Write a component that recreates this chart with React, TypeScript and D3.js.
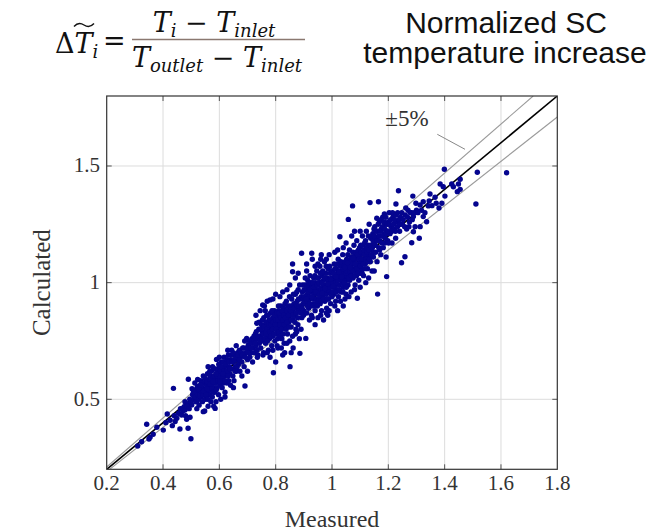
import React from 'react';
import * as d3 from 'd3';

// axis ticks
const xTicks = [0.2, 0.4, 0.6, 0.8, 1, 1.2, 1.4, 1.6, 1.8];
const yTicks = [0.5, 1, 1.5];
const domainMin = 0.2;
const domainMax = 1.8;
const tolerance = 0.05; // ±5 %

// [measured, calculated]
const tailPoints: [number, number][] = [
  [0.31, 0.3], [0.324, 0.318], [0.342, 0.393], [0.35, 0.33], [0.354, 0.337], [0.365, 0.35],
  [0.378, 0.38], [0.401, 0.368], [0.41, 0.4], [0.415, 0.437], [0.425, 0.41], [0.433, 0.387],
  [0.437, 0.547], [0.44, 0.43], [0.449, 0.419], [0.455, 0.44], [0.46, 0.373], [0.466, 0.433],
  [0.47, 0.45], [0.475, 0.468], [0.478, 0.454], [0.478, 0.49], [0.484, 0.414], [0.489, 0.376],
  [0.49, 0.586], [0.496, 0.423], [0.499, 0.331], [0.49, 0.48], [0.495, 0.5], [0.5, 0.49], [0.502, 0.476],
  [0.462, 0.46], [0.485, 0.47], [0.493, 0.46], [0.48, 0.43], [0.443, 0.405],
];

const lowClusterPoints: [number, number][] = [
  [0.505, 0.52], [0.51, 0.5], [0.512, 0.54], [0.515, 0.51], [0.518, 0.53], [0.52, 0.49], [0.522, 0.555],
  [0.525, 0.52], [0.527, 0.5], [0.53, 0.54], [0.532, 0.56], [0.528, 0.475], [0.52, 0.46],
  [0.535, 0.51], [0.537, 0.53], [0.54, 0.55], [0.54, 0.49], [0.543, 0.447], [0.545, 0.57], [0.547, 0.52],
  [0.55, 0.54], [0.55, 0.5], [0.552, 0.585], [0.555, 0.56], [0.556, 0.53], [0.558, 0.61], [0.56, 0.47],
  [0.56, 0.55], [0.543, 0.6], [0.548, 0.45],
  [0.562, 0.58], [0.565, 0.52], [0.565, 0.56], [0.567, 0.6], [0.57, 0.54], [0.57, 0.49], [0.572, 0.62],
  [0.575, 0.57], [0.575, 0.51], [0.577, 0.59], [0.58, 0.55], [0.58, 0.63], [0.583, 0.53], [0.585, 0.461],
  [0.585, 0.6], [0.587, 0.57], [0.588, 0.49], [0.59, 0.671], [0.59, 0.58],
  [0.592, 0.55], [0.595, 0.62], [0.595, 0.6], [0.597, 0.52], [0.6, 0.58], [0.6, 0.64], [0.603, 0.56],
  [0.605, 0.5], [0.605, 0.61], [0.607, 0.66], [0.61, 0.59], [0.61, 0.55], [0.613, 0.63], [0.615, 0.57],
  [0.617, 0.68], [0.618, 0.61], [0.62, 0.53], [0.62, 0.64],
  [0.623, 0.6], [0.625, 0.66], [0.627, 0.57], [0.63, 0.62], [0.632, 0.69], [0.633, 0.58], [0.635, 0.64],
  [0.637, 0.61], [0.64, 0.67], [0.64, 0.56], [0.644, 0.711], [0.645, 0.63], [0.648, 0.6], [0.65, 0.66],
  [0.652, 0.58], [0.655, 0.69], [0.657, 0.64], [0.66, 0.62],
  [0.662, 0.67], [0.665, 0.7], [0.668, 0.65], [0.671, 0.711], [0.673, 0.62], [0.675, 0.68], [0.68, 0.66],
  [0.683, 0.72], [0.686, 0.69], [0.688, 0.64], [0.691, 0.557], [0.693, 0.7], [0.697, 0.761], [0.7, 0.67],
  [0.703, 0.733], [0.705, 0.71], [0.708, 0.68], [0.71, 0.74], [0.713, 0.7], [0.716, 0.76], [0.72, 0.72],
  [0.718, 0.66],
];

const lowClusterExtra: [number, number][] = [
  [0.503, 0.545], [0.508, 0.53], [0.513, 0.57], [0.517, 0.49], [0.523, 0.585], [0.526, 0.545], [0.531, 0.515],
  [0.534, 0.58], [0.538, 0.57], [0.541, 0.52], [0.544, 0.535], [0.549, 0.59], [0.553, 0.52], [0.557, 0.575],
  [0.559, 0.5], [0.563, 0.54], [0.566, 0.62], [0.569, 0.58], [0.573, 0.55], [0.576, 0.64], [0.578, 0.53],
  [0.582, 0.6], [0.584, 0.57], [0.586, 0.63], [0.589, 0.54], [0.593, 0.6], [0.596, 0.58], [0.598, 0.65],
  [0.601, 0.6], [0.604, 0.62], [0.606, 0.58], [0.609, 0.64], [0.612, 0.6], [0.614, 0.66], [0.616, 0.62],
  [0.619, 0.58], [0.622, 0.65], [0.626, 0.62], [0.629, 0.67], [0.631, 0.6], [0.634, 0.66], [0.638, 0.63],
  [0.642, 0.69], [0.646, 0.66], [0.649, 0.7], [0.653, 0.67], [0.656, 0.62], [0.659, 0.68], [0.663, 0.64],
  [0.667, 0.69], [0.672, 0.67], [0.677, 0.7], [0.682, 0.69], [0.687, 0.72], [0.692, 0.68], [0.698, 0.72],
  [0.702, 0.7], [0.707, 0.75], [0.712, 0.72], [0.717, 0.74],
  [0.535, 0.56], [0.557, 0.545], [0.568, 0.565], [0.578, 0.575], [0.589, 0.61], [0.602, 0.575], [0.613, 0.61],
  [0.56, 0.64], [0.6, 0.68], [0.63, 0.71], [0.66, 0.73], [0.69, 0.75], [0.58, 0.47], [0.62, 0.51],
  [0.65, 0.55], [0.68, 0.6], [0.7, 0.62],
];

const midClusterPoints: [number, number][] = [
  [0.722, 0.75], [0.725, 0.7], [0.728, 0.78], [0.73, 0.73], [0.733, 0.826], [0.735, 0.76], [0.737, 0.69],
  [0.74, 0.8], [0.742, 0.74], [0.745, 0.77], [0.747, 0.72], [0.75, 0.82], [0.752, 0.79], [0.754, 0.904],
  [0.755, 0.75], [0.757, 0.7], [0.758, 0.85],
  [0.76, 0.78], [0.762, 0.82], [0.764, 0.74], [0.766, 0.8], [0.768, 0.86], [0.77, 0.77], [0.772, 0.83],
  [0.774, 0.71], [0.775, 0.8], [0.777, 0.84], [0.778, 0.76], [0.78, 0.926], [0.78, 0.81], [0.782, 0.87],
  [0.784, 0.79], [0.786, 0.73], [0.788, 0.83], [0.79, 0.85], [0.79, 0.77], [0.792, 0.614], [0.793, 0.81],
  [0.795, 0.88], [0.797, 0.75], [0.798, 0.84], [0.8, 0.8],
  [0.802, 0.86], [0.804, 0.78], [0.806, 0.83], [0.808, 0.72], [0.81, 0.88], [0.812, 0.81], [0.814, 0.85],
  [0.816, 0.79], [0.818, 0.9], [0.82, 0.83], [0.822, 0.76], [0.824, 0.86], [0.826, 0.81], [0.828, 0.89],
  [0.83, 0.84], [0.832, 0.7], [0.834, 0.87], [0.836, 0.82], [0.838, 0.92], [0.84, 0.85], [0.842, 0.78],
  [0.845, 0.88], [0.847, 0.83], [0.85, 0.9], [0.851, 0.64],
  [0.852, 0.86], [0.855, 0.81], [0.857, 0.93], [0.86, 0.88], [0.86, 1.08], [0.86, 1.047], [0.862, 0.84],
  [0.865, 0.91], [0.867, 0.86], [0.87, 0.95], [0.872, 0.8], [0.874, 0.89], [0.876, 0.92], [0.878, 0.85],
  [0.88, 0.97], [0.882, 0.88], [0.884, 0.76], [0.886, 0.697], [0.887, 0.93], [0.89, 0.9], [0.892, 1.126],
  [0.893, 0.85], [0.895, 0.96], [0.897, 0.91], [0.9, 0.88],
];

const midClusterExtra: [number, number][] = [
  [0.723, 0.77], [0.727, 0.74], [0.731, 0.79], [0.734, 0.71], [0.738, 0.77], [0.741, 0.83], [0.744, 0.75],
  [0.748, 0.8], [0.751, 0.76], [0.753, 0.84], [0.756, 0.78], [0.759, 0.81], [0.761, 0.76], [0.763, 0.88],
  [0.765, 0.78], [0.767, 0.83], [0.769, 0.8], [0.771, 0.75], [0.773, 0.86], [0.776, 0.82], [0.779, 0.79],
  [0.781, 0.84], [0.783, 0.77], [0.785, 0.82], [0.787, 0.88], [0.789, 0.8], [0.791, 0.83], [0.794, 0.78],
  [0.796, 0.86], [0.799, 0.82], [0.801, 0.84], [0.803, 0.8], [0.805, 0.87], [0.807, 0.76], [0.809, 0.84],
  [0.811, 0.79], [0.813, 0.87], [0.815, 0.82], [0.817, 0.77], [0.819, 0.85], [0.821, 0.8], [0.823, 0.88],
  [0.825, 0.84], [0.827, 0.78], [0.829, 0.86], [0.831, 0.82], [0.833, 0.91], [0.835, 0.85], [0.837, 0.8],
  [0.839, 0.88], [0.841, 0.83], [0.843, 0.9], [0.846, 0.86], [0.848, 0.81], [0.849, 0.94], [0.853, 0.88],
  [0.856, 0.84], [0.858, 0.9], [0.861, 0.86], [0.863, 0.95], [0.866, 0.89], [0.868, 0.83], [0.871, 0.91],
  [0.873, 0.87], [0.875, 0.96], [0.877, 0.9], [0.879, 0.82], [0.881, 0.93], [0.883, 0.9], [0.885, 0.99],
  [0.888, 0.87], [0.891, 0.94], [0.894, 0.89], [0.896, 0.99], [0.898, 0.93], [0.899, 0.86], [0.87, 0.78],
  [0.85, 0.75], [0.83, 0.74], [0.81, 0.9],
  [0.73, 0.86], [0.745, 0.88], [0.76, 0.9], [0.77, 0.92], [0.79, 0.93], [0.8, 0.95], [0.815, 0.94],
  [0.825, 0.96], [0.84, 0.97], [0.85, 0.99], [0.87, 1.02], [0.88, 1.04], [0.735, 0.68], [0.755, 0.69],
  [0.77, 0.7], [0.79, 0.71], [0.805, 0.73], [0.82, 0.72], [0.84, 0.74], [0.86, 0.77], [0.875, 0.79],
  [0.89, 0.8], [0.8, 0.66], [0.78, 0.68], [0.825, 0.69], [0.855, 0.7], [0.862, 0.72],
];

const corePoints: [number, number][] = [
  [0.902, 0.94], [0.904, 0.99], [0.906, 0.91], [0.907, 0.761], [0.908, 0.97], [0.91, 0.87], [0.912, 0.95],
  [0.914, 1.01], [0.915, 0.92], [0.917, 0.89], [0.918, 0.98], [0.92, 0.94], [0.922, 1.03], [0.924, 0.9],
  [0.925, 0.96], [0.927, 0.86], [0.928, 1.126], [0.93, 0.99], [0.931, 0.93], [0.933, 0.97], [0.935, 1.02],
  [0.936, 0.91], [0.938, 0.95], [0.94, 0.88], [0.941, 1.0], [0.943, 0.93], [0.945, 0.97], [0.946, 1.05],
  [0.948, 0.9], [0.95, 0.99], [0.95, 0.95], [0.94, 0.82], [0.92, 0.84],
  [0.952, 1.02], [0.953, 0.93], [0.955, 0.97], [0.957, 1.07], [0.958, 0.91], [0.96, 1.0], [0.961, 0.95],
  [0.963, 0.88], [0.965, 1.03], [0.966, 0.98], [0.968, 0.94], [0.97, 1.01], [0.971, 0.96], [0.973, 1.09],
  [0.975, 0.92], [0.976, 0.99], [0.978, 1.04], [0.98, 0.95], [0.981, 0.89], [0.983, 1.02], [0.985, 0.97],
  [0.986, 1.06], [0.988, 0.93], [0.99, 1.0], [0.991, 0.96], [0.993, 1.04], [0.995, 0.91], [0.996, 0.99],
  [0.998, 1.02], [1.0, 0.94], [0.97, 0.84], [0.985, 0.86], [0.962, 1.12],
  [1.002, 1.05], [1.004, 0.98], [1.005, 1.01], [1.007, 0.95], [1.008, 1.08], [1.01, 1.03], [1.012, 0.99],
  [1.013, 0.92], [1.015, 1.06], [1.017, 1.01], [1.018, 0.97], [1.02, 1.04], [1.022, 1.1], [1.023, 0.94],
  [1.025, 1.02], [1.026, 0.99], [1.028, 1.197], [1.03, 1.07], [1.031, 1.03], [1.033, 0.96], [1.035, 1.05],
  [1.036, 1.0], [1.038, 1.12], [1.04, 1.02], [1.041, 0.98], [1.043, 1.08], [1.045, 1.04], [1.046, 0.93],
  [1.048, 1.06], [1.05, 1.01], [1.02, 0.88], [1.04, 0.9],
  [1.052, 1.1], [1.053, 1.03], [1.055, 1.07], [1.057, 0.99], [1.058, 1.271], [1.06, 1.05], [1.062, 1.14],
  [1.063, 1.01], [1.065, 1.08], [1.067, 1.04], [1.068, 0.96], [1.07, 1.11], [1.072, 1.06], [1.073, 1.329],
  [1.075, 1.02], [1.077, 1.09], [1.078, 1.16], [1.08, 1.05], [1.082, 0.99], [1.084, 1.12], [1.085, 1.07],
  [1.087, 1.03], [1.088, 1.18], [1.09, 0.933], [1.09, 1.1], [1.092, 1.06], [1.094, 1.14], [1.095, 1.01],
  [1.097, 1.08], [1.1, 1.12], [1.1, 1.04],
  [1.102, 1.16], [1.104, 1.09], [1.106, 1.06], [1.108, 1.2], [1.11, 1.13], [1.112, 1.03], [1.114, 1.1],
  [1.116, 1.17], [1.118, 1.08], [1.12, 1.14], [1.122, 1.22], [1.124, 1.11], [1.126, 1.06], [1.128, 1.16],
  [1.13, 1.12], [1.132, 1.25], [1.135, 1.343], [1.136, 1.09], [1.138, 1.19], [1.14, 1.14], [1.142, 1.05],
  [1.145, 1.21], [1.147, 1.11], [1.15, 1.17],
];

const coreExtra: [number, number][] = [
  [0.901, 0.97], [0.903, 0.92], [0.905, 1.02], [0.909, 0.93], [0.911, 0.99], [0.913, 0.9], [0.916, 0.96],
  [0.919, 1.0], [0.921, 0.91], [0.923, 0.97], [0.926, 1.0], [0.929, 0.94], [0.932, 1.0], [0.934, 0.9],
  [0.937, 0.98], [0.939, 1.03], [0.942, 0.96], [0.944, 0.91], [0.947, 0.99], [0.949, 1.02], [0.951, 0.92],
  [0.954, 1.0], [0.956, 0.95], [0.959, 1.04], [0.96, 0.97], [0.962, 0.92], [0.964, 1.0], [0.967, 1.05],
  [0.969, 0.97], [0.972, 0.93], [0.974, 1.02], [0.977, 0.97], [0.979, 1.07], [0.982, 0.98], [0.984, 0.93],
  [0.987, 1.01], [0.989, 0.97], [0.992, 1.07], [0.994, 0.98], [0.997, 0.95], [0.999, 1.05], [1.001, 1.0],
  [1.003, 0.96], [1.006, 1.04], [1.009, 0.98], [1.011, 1.06], [1.014, 1.0], [1.016, 0.96], [1.019, 1.08],
  [1.021, 1.01], [1.024, 1.05], [1.027, 0.97], [1.029, 1.03], [1.032, 1.09], [1.034, 1.01], [1.037, 1.05],
  [1.039, 0.96], [1.042, 1.06], [1.044, 1.0], [1.047, 1.09], [1.049, 1.04], [1.051, 0.98], [1.054, 1.05],
  [1.056, 1.12], [1.059, 1.02], [1.061, 1.08], [1.064, 1.05], [1.066, 1.1], [1.069, 1.03], [1.071, 1.08],
  [1.074, 1.13], [1.076, 1.05], [1.079, 1.1], [1.081, 1.03], [1.083, 1.08], [1.086, 1.13], [1.089, 1.06],
  [1.091, 1.12], [1.093, 1.04], [1.096, 1.1], [1.098, 1.15], [1.101, 1.07], [1.103, 1.13], [1.105, 1.1],
  [1.107, 1.04], [1.109, 1.16], [1.111, 1.08], [1.113, 1.14], [1.115, 1.12], [1.117, 1.06], [1.119, 1.18],
  [1.121, 1.1], [1.123, 1.15], [1.125, 1.13], [1.127, 1.09], [1.129, 1.2], [1.131, 1.14], [1.133, 1.1],
  [1.137, 1.16], [1.139, 1.12], [1.141, 1.2], [1.143, 1.15], [1.146, 1.18], [1.148, 1.13], [1.149, 1.23],
  [0.93, 0.85], [0.96, 0.86], [0.99, 0.88], [1.01, 0.9], [1.05, 0.95], [1.08, 0.97], [1.12, 1.0],
  [0.95, 1.08], [0.98, 1.1], [1.01, 1.13], [1.04, 1.15], [1.07, 1.2], [1.1, 1.22], [0.91, 1.05], [0.94, 1.07],
  [0.965, 0.955], [0.975, 0.975], [0.985, 0.995], [0.995, 1.015], [1.005, 0.985], [1.015, 1.025],
  [1.025, 1.045], [1.035, 1.025], [1.045, 1.065], [1.055, 1.085], [1.065, 1.065], [1.075, 1.105],
  [0.91, 1.08], [0.93, 1.1], [0.96, 1.1], [0.99, 1.12], [1.02, 1.14], [1.05, 1.17], [1.08, 1.22],
  [0.95, 0.85], [0.98, 0.87], [1.03, 0.92], [1.06, 0.94], [1.1, 0.98], [1.13, 1.02], [1.15, 1.05],
];

const upperPoints: [number, number][] = [
  [1.152, 1.24], [1.155, 1.13], [1.158, 1.19], [1.159, 1.276], [1.16, 1.09], [1.162, 0.951], [1.163, 1.22],
  [1.165, 1.347], [1.166, 1.15], [1.168, 1.26], [1.17, 1.18], [1.173, 1.12], [1.175, 1.23], [1.178, 1.2],
  [1.18, 1.28], [1.182, 1.15], [1.185, 1.21], [1.186, 1.294], [1.188, 1.17], [1.19, 1.25], [1.192, 1.11],
  [1.194, 1.026], [1.195, 1.22], [1.198, 1.18], [1.2, 1.26],
  [1.203, 1.3], [1.206, 1.21], [1.21, 1.24], [1.213, 1.17], [1.216, 1.28], [1.22, 1.23], [1.227, 1.337],
  [1.226, 1.19], [1.23, 1.26], [1.233, 1.3], [1.236, 1.394], [1.24, 1.22], [1.243, 1.28], [1.247, 1.085],
  [1.25, 1.25], [1.259, 1.111], [1.26, 1.29], [1.265, 1.23], [1.27, 1.31], [1.275, 1.26], [1.283, 1.3],
  [1.283, 1.171], [1.287, 1.371], [1.289, 1.283], [1.289, 1.218], [1.295, 1.24], [1.3, 1.31], [1.31, 1.19],
  [1.313, 1.333], [1.313, 1.24], [1.324, 1.347], [1.324, 1.283], [1.336, 1.261], [1.342, 1.329],
  [1.348, 1.38], [1.366, 1.366], [1.38, 1.32], [1.384, 1.423], [1.39, 1.34], [1.395, 1.411],
  [1.399, 1.486], [1.401, 1.371], [1.425, 1.423], [1.431, 1.411], [1.445, 1.39], [1.449, 1.423],
  [1.455, 1.443], [1.455, 1.4], [1.511, 1.337], [1.516, 1.473], [1.62, 1.471],
];

const upperExtra: [number, number][] = [
  [1.151, 1.2], [1.154, 1.16], [1.157, 1.22], [1.161, 1.18], [1.164, 1.25], [1.167, 1.2], [1.169, 1.14],
  [1.172, 1.22], [1.174, 1.27], [1.177, 1.17], [1.179, 1.24], [1.181, 1.2], [1.184, 1.26], [1.187, 1.23],
  [1.189, 1.19], [1.191, 1.28], [1.193, 1.21], [1.196, 1.25], [1.199, 1.22], [1.201, 1.17], [1.204, 1.25],
  [1.208, 1.27], [1.212, 1.22], [1.215, 1.3], [1.218, 1.25], [1.222, 1.27], [1.225, 1.22], [1.228, 1.29],
  [1.232, 1.24], [1.238, 1.27], [1.242, 1.25], [1.248, 1.3], [1.253, 1.27], [1.258, 1.24], [1.262, 1.32],
  [1.268, 1.28], [1.273, 1.24], [1.278, 1.3], [1.285, 1.27], [1.292, 1.3], [1.298, 1.34], [1.305, 1.3],
  [1.318, 1.31], [1.33, 1.3], [1.345, 1.35], [1.355, 1.33], [1.37, 1.34],
];

const allPoints = [
  ...tailPoints, ...lowClusterPoints, ...lowClusterExtra, ...midClusterPoints, ...midClusterExtra,
  ...corePoints, ...coreExtra, ...upperPoints, ...upperExtra,
];

export default function App() {
  const W = 666;
  const H = 532;
  const left = 106.7, right = 557.3, top = 96, bottom = 469.3;
  const x = d3.scaleLinear().domain([domainMin, domainMax]).range([left, right]);
  const y = d3.scaleLinear().domain([domainMin, domainMax]).range([bottom, top]);
  const serif = '"Liberation Serif", "Times New Roman", serif';
  const mathFont = '"DejaVu Serif", serif';
  const line = d3.line<[number, number]>().x(d => x(d[0])).y(d => y(d[1]));
  const refLine: [number, number][] = [[domainMin, domainMin], [domainMax, domainMax]];
  const upLine: [number, number][] = [[domainMin, domainMin * (1 + tolerance)], [domainMax / (1 + tolerance), domainMax]];
  const loLine: [number, number][] = [[domainMin, domainMin * (1 - tolerance)], [domainMax, domainMax * (1 - tolerance)]];
  const tickLen = 5;
  const fmt = (v: number) => String(+v.toFixed(1));
  const innerX = xTicks.filter(t => t > domainMin && t < domainMax);

  return (
    <svg width={W} height={H} style={{ position: 'absolute', left: 0, top: 0, background: '#fff' }}>
      <defs>
        <clipPath id="plotClip">
          <rect x={left} y={top} width={right - left} height={bottom - top} />
        </clipPath>
      </defs>
      <rect x={0} y={0} width={W} height={H} fill="#fff" />

      {/* header formula */}
      <g fontFamily={mathFont} fontStyle="italic" fill="#111">
        <text x={55} y={53} fontSize={27}>
          <tspan fontStyle="normal">Δ</tspan>T<tspan fontSize={18} dy={5}>i</tspan>
        </text>
        <path d="M74,26.5 q4.5,-5 10,-1.5 t10,-1.5" fill="none" stroke="#111" strokeWidth={1.4} />
        <text x={103} y={50} fontSize={27} fontStyle="normal">=</text>
        <text x={214} y={32} fontSize={27} textAnchor="middle">
          T<tspan fontSize={18} dy={5}>i</tspan><tspan dy={-5} fontStyle="normal"> − </tspan>T<tspan fontSize={18} dy={5}>inlet</tspan>
        </text>
        <line x1={132} x2={305} y1={39.5} y2={39.5} stroke="#8a7870" strokeWidth={1.6} />
        <text x={217} y={67} fontSize={27} textAnchor="middle">
          T<tspan fontSize={18} dy={5}>outlet</tspan><tspan dy={-5} fontStyle="normal"> − </tspan>T<tspan fontSize={18} dy={5}>inlet</tspan>
        </text>
      </g>
      <g fontFamily='"Liberation Sans", Arial, sans-serif' fontSize={30} fill="#111" textAnchor="middle">
        <text x={506} y={33}>Normalized SC</text>
        <text x={505} y={63}>temperature increase</text>
      </g>

      {/* grid */}
      <g stroke="#dcdcdc" strokeWidth={1}>
        {innerX.map(t => (
          <line key={'gx' + t} x1={x(t)} x2={x(t)} y1={top} y2={bottom} />
        ))}
        {yTicks.map(t => (
          <line key={'gy' + t} x1={left} x2={right} y1={y(t)} y2={y(t)} />
        ))}
      </g>

      {/* reference lines */}
      <g clipPath="url(#plotClip)" fill="none">
        <path d={line(upLine) || ''} stroke="#9a9a9a" strokeWidth={1.1} />
        <path d={line(loLine) || ''} stroke="#9a9a9a" strokeWidth={1.1} />
        <path d={line(refLine) || ''} stroke="#000" strokeWidth={1.6} />
      </g>

      {/* points */}
      <g clipPath="url(#plotClip)" fill="#05058f">
        {allPoints.map((p, i) => (
          <circle key={i} cx={x(p[0])} cy={y(p[1])} r={2.7} />
        ))}
      </g>

      {/* ±5% annotation */}
      <text x={407} y={126} fontFamily={serif} fontSize={23} textAnchor="middle" fill="#333">±5%</text>
      <line x1={437.3} y1={134.3} x2={465} y2={149.3} stroke="#888" strokeWidth={1} />

      {/* ticks */}
      <g stroke="#555" strokeWidth={1}>
        {innerX.map(t => (
          <g key={'tx' + t}>
            <line x1={x(t)} x2={x(t)} y1={bottom} y2={bottom - tickLen} />
            <line x1={x(t)} x2={x(t)} y1={top} y2={top + tickLen} />
          </g>
        ))}
        {yTicks.map(t => (
          <g key={'ty' + t}>
            <line x1={left} x2={left + tickLen} y1={y(t)} y2={y(t)} />
            <line x1={right} x2={right - tickLen} y1={y(t)} y2={y(t)} />
          </g>
        ))}
      </g>

      {/* frame */}
      <rect x={left} y={top} width={right - left} height={bottom - top} fill="none" stroke="#333" strokeWidth={1.2} />

      {/* tick labels */}
      <g fontFamily={serif} fontSize={21} fill="#333">
        {xTicks.map(t => (
          <text key={'lx' + t} x={x(t)} y={490} textAnchor="middle">{fmt(t)}</text>
        ))}
        {yTicks.map(t => (
          <text key={'ly' + t} x={100} y={y(t) + 6.5} textAnchor="end">{fmt(t)}</text>
        ))}
      </g>

      {/* axis titles */}
      <text x={332} y={527} fontFamily={serif} fontSize={24} textAnchor="middle" fill="#333">Measured</text>
      <text transform={`translate(50, ${(top + bottom) / 2}) rotate(-90)`} fontFamily={serif} fontSize={25} textAnchor="middle" fill="#333">Calculated</text>
    </svg>
  );
}
